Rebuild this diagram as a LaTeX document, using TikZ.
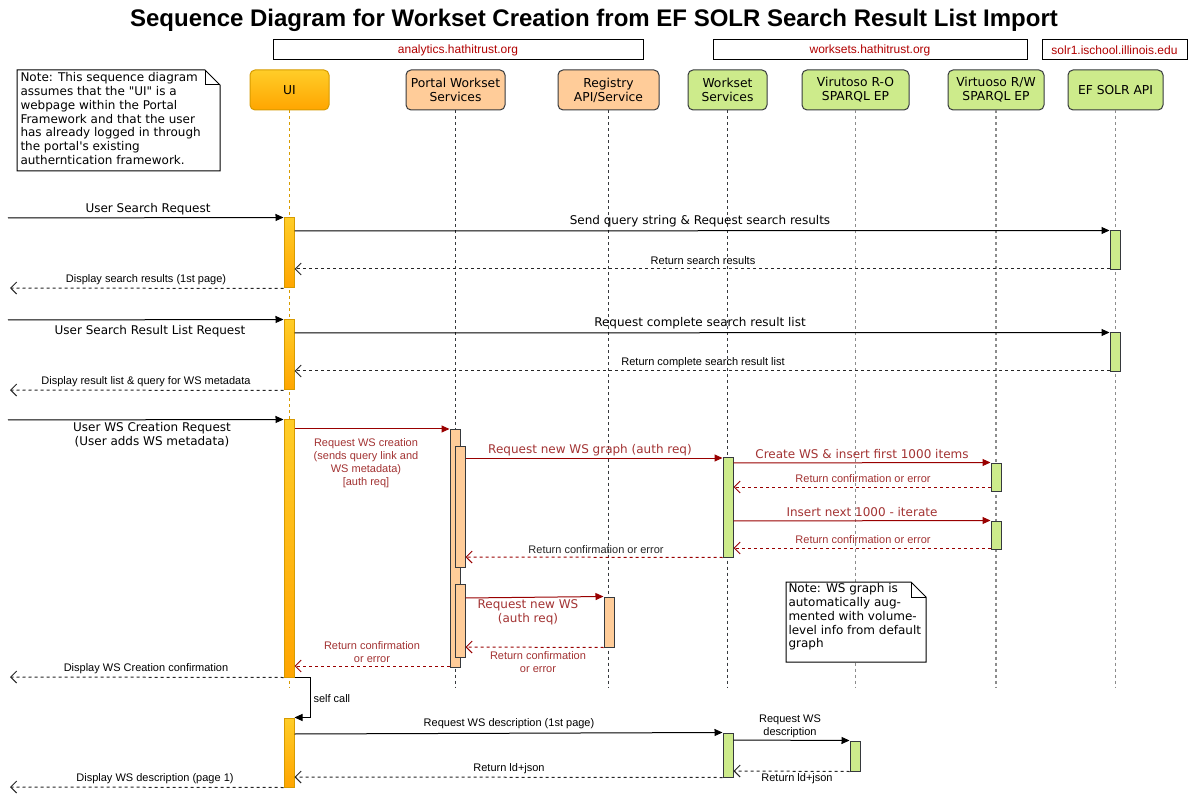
\documentclass[tikz,border=0pt]{standalone}
\usepackage{fontspec}
\setmainfont{DejaVu Sans}
\newfontfamily\plaindv{DejaVu Sans}
\newfontfamily\arialf{Liberation Sans}
\usetikzlibrary{arrows.meta,calc}
\definecolor{orgA}{HTML}{FFCD28}
\definecolor{orgB}{HTML}{FFA500}
\definecolor{orgE}{HTML}{D79B00}
\definecolor{peach}{HTML}{FFCC99}
\definecolor{lgreen}{HTML}{CDEB8B}
\definecolor{dk}{HTML}{36393D}
\definecolor{dred}{HTML}{990000}
\definecolor{tred}{HTML}{A33333}
\definecolor{hred}{HTML}{B20000}
\tikzset{
  head/.style={rounded corners=5, minimum height=40, inner sep=2, align=center, font=\fontsize{12.3}{14}\selectfont, draw=dk},
  headO/.style={head, top color=orgA, bottom color=orgB, draw=orgE},
  headP/.style={head, fill=peach},
  headG/.style={head, fill=lgreen},
  host/.style={draw=black, minimum height=20, inner sep=0, font=\arialf\fontsize{12}{13}\selectfont, text=hred},
  act/.style={minimum width=10, inner sep=0, draw=dk},
  actO/.style={act, top color=orgA, bottom color=orgB, draw=orgE},
  actP/.style={act, fill=peach},
  actG/.style={act, fill=lgreen},
  lifeO/.style={draw=orgE, dash pattern=on 3pt off 3pt},
  lifeD/.style={draw=dk, dash pattern=on 3pt off 3pt},
  lifeL/.style={draw=black!45, dash pattern=on 3pt off 3pt, line width=1.2pt},
  sync/.style={draw=black, -{Triangle[length=8pt,width=7pt]}},
  ret/.style={draw=black!85, dash pattern=on 3pt off 3pt, -{Straight Barb[length=6pt,width=12pt]}},
  rsync/.style={draw=dred, -{Triangle[length=8pt,width=7pt]}},
  rret/.style={draw=dred, dash pattern=on 3pt off 3pt, -{Straight Barb[length=6pt,width=12pt]}},
  big/.style={font=\fontsize{12}{14}\selectfont, inner sep=0, align=center},
  small/.style={font=\arialf\fontsize{11}{13}\selectfont, inner sep=0, align=center},
  bigR/.style={big, text=tred},
  smallR/.style={small, text=tred},
  notetxt/.style={font=\plaindv\fontsize{12}{13.8}\selectfont, inner sep=0, align=left, anchor=north west},
}
\begin{document}
\begin{tikzpicture}[x=1pt,y=-1pt,line width=1pt]
\useasboundingbox[fill=white] (0,0) rectangle (1189,799);
% title
\node[font=\arialf\bfseries\fontsize{24}{27}\selectfont] (title) at (594,20) {Sequence Diagram for Workset Creation from EF SOLR Search Result List Import};
% hosts
\node[host, minimum width=370] (h1) at (458,50) {analytics.hathitrust.org};
\node[host, minimum width=314] (h2) at (870,50) {worksets.hathitrust.org};
\node[host, minimum width=145] (h3) at (1114.5,50) {solr1.ischool.illinois.edu};
% note 1
\node[minimum width=202, minimum height=100, inner sep=0, anchor=north west] (n1) at (17,70) {};
\draw[fill=white] (n1.north west) -- ($(n1.north east)+(-15,0)$) -- ($(n1.north east)+(0,15)$) -- (n1.south east) -- (n1.south west) -- cycle;
\draw ($(n1.north east)+(-15,0)$) -- ($(n1.north east)+(-15,15)$) -- ($(n1.north east)+(0,15)$);
\node[notetxt] (n1t) at ($(n1.north west)+(3,2)$) {Note: This sequence diagram\\assumes that the "UI" is a\\webpage within the Portal\\Framework and that the user\\has already logged in through\\the portal's existing\\autherntication framework.};
% heads
\node[headO, minimum width=79] (ui) at (289.5,90) {UI};
\node[headP, minimum width=99] (pws) at (455.5,90) {Portal Workset\\Services};
\node[headP, minimum width=101] (reg) at (608.5,90) {Registry\\API/Service};
\node[headG, minimum width=79] (wss) at (727.5,90) {Workset\\Services};
\node[headG, minimum width=107] (vro) at (855.5,90) {Virutoso R-O\\SPARQL EP};
\node[headG, minimum width=96] (vrw) at (996,90) {Virtuoso R/W\\SPARQL EP};
\node[headG, minimum width=95] (ef) at (1115.5,90) {EF SOLR API};
% lifelines
\coordinate (bot) at (0,688);
\draw[lifeO] (ui.south) -- (ui.south |- bot);
\draw[lifeD] (pws.south) -- (pws.south |- bot);
\draw[lifeD] (reg.south) -- (reg.south |- bot);
\draw[lifeD] (wss.south) -- (wss.south |- bot);
\draw[lifeL] (vro.south) -- (vro.south |- bot);
\draw[lifeL] (vrw.south) -- (vrw.south |- bot);
\draw[lifeL] (ef.south) -- (ef.south |- bot);
% activation bars
\node[actO, minimum height=70] (u1) at (289,253) {};
\node[actO, minimum height=70] (u2) at (289,355) {};
\node[actO, minimum height=257] (u3) at (289,548.5) {};
\node[actO, minimum height=69] (u4) at (289,752.5) {};
\node[actG, minimum height=39] (e1) at (1115,250.5) {};
\node[actG, minimum height=39] (e2) at (1115,352.5) {};
\node[actP, minimum height=237] (p1) at (455,548.5) {};
\node[actP, minimum height=120] (p2) at (460,507) {};
\node[actP, minimum height=73] (p3) at (460,620.5) {};
\node[actG, minimum height=100] (w1) at (728,507) {};
\node[actG, minimum height=44] (w2) at (728,755) {};
\node[actG, minimum height=28] (r1) at (996,477) {};
\node[actG, minimum height=28] (r2) at (996,535) {};
\node[actP, minimum height=50] (g1) at (609,622) {};
\node[actG, minimum height=30] (o1) at (855,756) {};
% free ends
\coordinate (in1) at (8,218);
\coordinate (out1) at (10,288);
\coordinate (in2) at (8,320);
\coordinate (out2) at (10,390);
\coordinate (in3) at (8,420);
\coordinate (out3) at (10,677);
\coordinate (out4) at (10,787);
% block 1
\draw[sync] (in1) -- (u1.north west);
\node[big] (l1) at (148,209) {User Search Request};
\draw[sync] (u1.east |- 0,231) -- (e1.north west);
\node[big] (l2) at (700,221) {Send query string \& Request search results};
\draw[ret] (e1.west |- 0,269) -- (u1.east |- 0,269);
\node[small] (l3) at (703,261) {Return search results};
\draw[ret] (u1.south west) -- (out1);
\node[small] (l4) at (146,280) {Display search results (1st page)};
% block 2
\draw[sync] (in2) -- (u2.north west);
\node[big] (l5) at (150,331) {User Search Result List Request};
\draw[sync] (u2.east |- 0,333) -- (e2.north west);
\node[big] (l6) at (700,323) {Request complete search result list};
\draw[ret] (e2.west |- 0,371) -- (u2.east |- 0,371);
\node[small] (l7) at (703,363) {Return complete search result list};
\draw[ret] (u2.south west) -- (out2);
\node[small] (l8) at (146,382) {Display result list \& query for WS metadata};
% block 3
\draw[sync] (in3) -- (u3.north west);
\node[big] (l9) at (152,434.5) {User WS Creation Request\\(User adds WS metadata)};
\draw[rsync] (u3.east |- 0,429) -- (p1.west |- 0,429);
\node[smallR] (l10) at (366,463) {Request WS creation\\(sends query link and\\WS metadata)\\{[auth req]}};
\draw[rsync] (p2.east |- 0,458) -- (w1.west |- 0,458);
\node[bigR] (l11) at (590,450) {Request new WS graph (auth req)};
\draw[rsync] (w1.east |- 0,463) -- (r1.north west);
\node[bigR] (l12) at (862,454) {Create WS \& insert first 1000 items};
\draw[rret] (r1.west |- 0,487) -- (w1.east |- 0,487);
\node[smallR] (l13) at (863,479) {Return confirmation or error};
\draw[rsync] (w1.east |- 0,521) -- (r2.north west);
\node[bigR] (l14) at (862,512) {Insert next 1000 - iterate};
\draw[rret] (r2.west |- 0,548) -- (w1.east |- 0,548);
\node[smallR] (l15) at (863,540) {Return confirmation or error};
\draw[rret] (w1.south west) -- (p2.east |- 0,557);
\node[small, text=black!85] (l16) at (596,550) {Return confirmation or error};
\draw[rsync] (p3.east |- 0,598) -- (g1.north west);
\node[bigR] (l17) at (528,612) {Request new WS\\(auth req)};
\draw[rret] (g1.south west) -- (p3.east |- 0,647);
\node[smallR] (l18) at (538,662) {Return confirmation\\or error};
\draw[rret] (p1.west |- 0,666) -- (u3.east |- 0,666);
\node[smallR] (l19) at (372,652) {Return confirmation\\or error};
\draw[ret] (u3.south west) -- (out3);
\node[small] (l20) at (146,669) {Display WS Creation confirmation};
% self call
\draw[sync] (u3.south east) -- ++(16,0) |- (u4.north east);
\node[small, anchor=west] (l21) at (313,699) {self call};
% block 4
\draw[sync] (u4.east |- 0,734) -- (w2.north west);
\node[small] (l22) at (509,724) {Request WS description (1st page)};
\draw[sync] (w2.east |- 0,740) -- (o1.north west);
\node[small] (l23) at (790,726) {Request WS\\description};
\draw[ret] (o1.south west) -- (w2.east |- 0,771);
\node[small] (l24) at (797,779) {Return ld+json};
\draw[ret] (w2.south west) -- (u4.east |- 0,777);
\node[small] (l25) at (509,769) {Return ld+json};
\draw[ret] (u4.south west) -- (out4);
\node[small] (l26) at (155,779) {Display WS description (page 1)};
% note 2
\node[minimum width=139, minimum height=79, inner sep=0, anchor=north west] (n2) at (786,582) {};
\draw[fill=white] (n2.north west) -- ($(n2.north east)+(-15,0)$) -- ($(n2.north east)+(0,15)$) -- (n2.south east) -- (n2.south west) -- cycle;
\draw ($(n2.north east)+(-15,0)$) -- ($(n2.north east)+(-15,15)$) -- ($(n2.north east)+(0,15)$);
\node[notetxt] (n2t) at ($(n2.north west)+(2,1)$) {Note: WS graph is\\automatically aug-\\mented with volume-\\level info from default\\graph};
\end{tikzpicture}
\end{document}
